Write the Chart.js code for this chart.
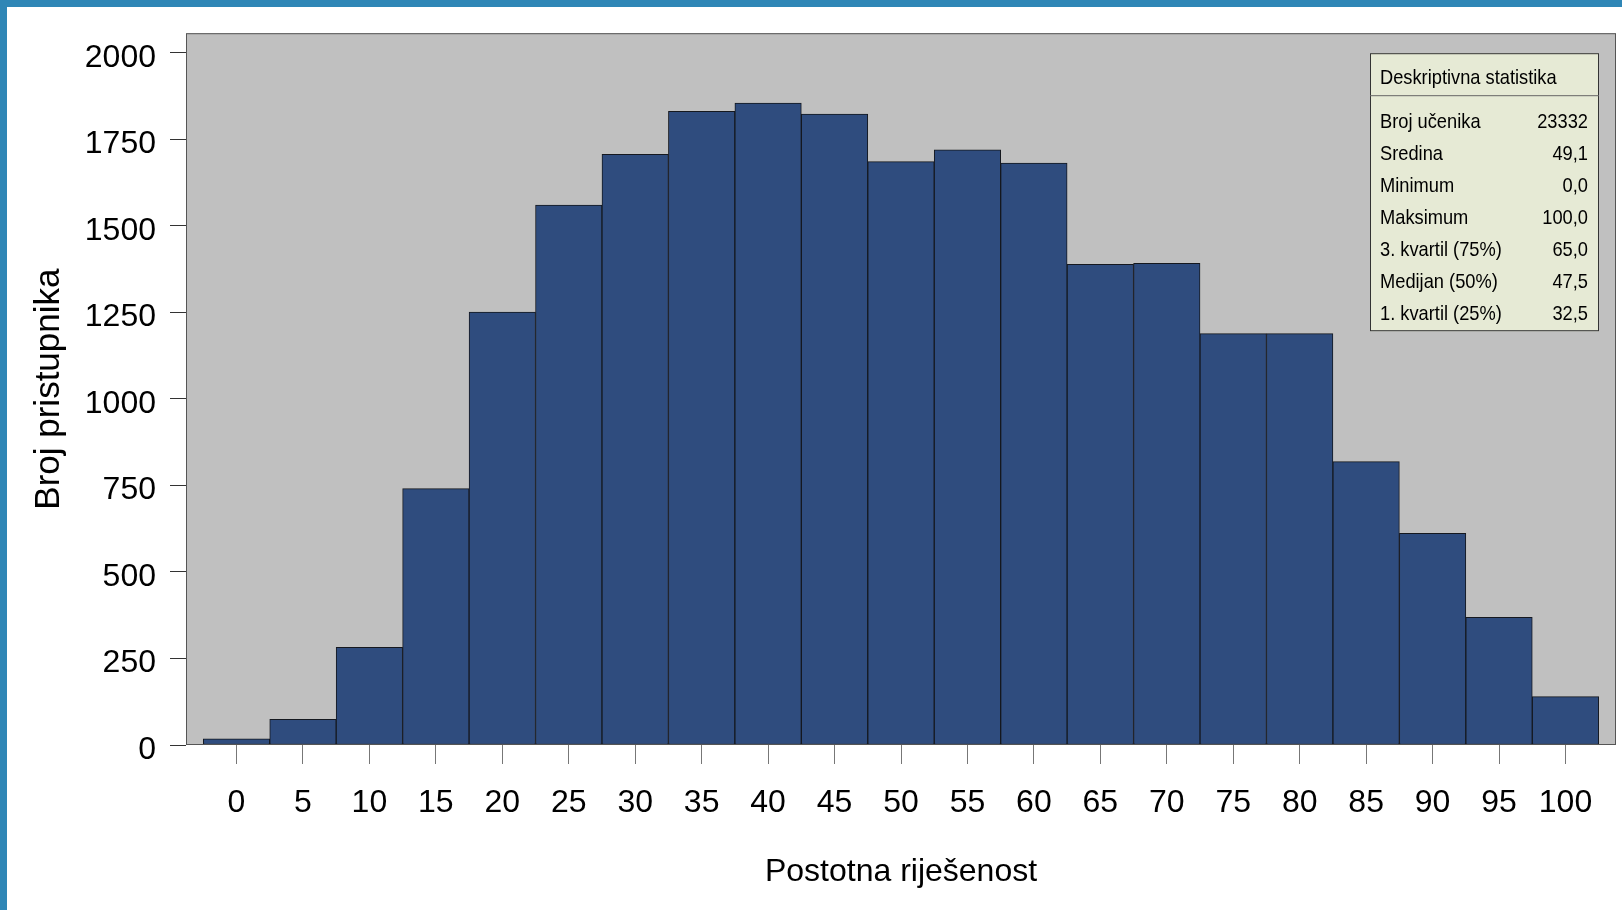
<!DOCTYPE html>
<html>
<head>
<meta charset="utf-8">
<script src="https://cdn.jsdelivr.net/npm/chart.js@4.4.1/dist/chart.umd.min.js"></script>
<style>
  html, body { margin: 0; padding: 0; background: #fff; }
  canvas { display: block; }
</style>
</head>
<body>
<canvas id="histogram" width="1622" height="910"></canvas>
<script>
// razredi postotne riješenosti i broj pristupnika u svakom razredu
const razredi = [0, 5, 10, 15, 20, 25, 30, 35, 40, 45, 50, 55, 60, 65, 70, 75, 80, 85, 90, 95, 100];
const brojPristupnika = [18, 74, 282, 741, 1251, 1560, 1707, 1831, 1855, 1823, 1686, 1720, 1682, 1389, 1392, 1189, 1189, 819, 612, 369, 140];
const xOznake = [0, 5, 10, 15, 20, 25, 30, 35, 40, 45, 50, 55, 60, 65, 70, 75, 80, 85, 90, 95, 100];
const yOznake = [0, 250, 500, 750, 1000, 1250, 1500, 1750, 2000];

const statNaslov = 'Deskriptivna statistika';
const statNazivi = ['Broj učenika', 'Sredina', 'Minimum', 'Maksimum', '3. kvartil (75%)', 'Medijan (50%)', '1. kvartil (25%)'];
const statVrijednosti = ['23332', '49,1', '0,0', '100,0', '65,0', '47,5', '32,5'];

const obicni = '"Liberation Sans", Arial, sans-serif';

// uži ispis teksta (kao u originalu) preko maxWidth
function uskiTekst(ctx, tekst, x, y) {
    ctx.fillText(tekst, x, y, ctx.measureText(tekst).width * 0.87);
}

const pozadina = {
    id: 'pozadina',
    beforeDraw(chart) {
        const { ctx, chartArea: a, width, height } = chart;
        ctx.save();
        ctx.fillStyle = '#ffffff';
        ctx.fillRect(0, 0, width, height);
        ctx.fillStyle = '#2f86b6';
        ctx.fillRect(0, 0, width, 7);
        ctx.fillRect(0, 0, 7, height);
        ctx.fillStyle = '#c0c0c0';
        ctx.fillRect(a.left, a.top, a.right - a.left, a.bottom - a.top);
        ctx.restore();
    },
    afterDraw(chart) {
        const { ctx, chartArea: a } = chart;
        ctx.save();
        // okvir grafa
        ctx.strokeStyle = '#555555';
        ctx.lineWidth = 1;
        ctx.strokeRect(a.left + 0.5, a.top + 0.5, a.right - a.left - 1, a.bottom - a.top - 1);

        // tablica deskriptivne statistike
        const x0 = a.right - 246, y0 = a.top + 20, w = 229, h = 278;
        ctx.fillStyle = '#e6ead5';
        ctx.fillRect(x0, y0, w, h);
        ctx.strokeStyle = '#333333';
        ctx.strokeRect(x0 + 0.5, y0 + 0.5, w - 1, h - 1);
        ctx.strokeStyle = '#666666';
        ctx.beginPath();
        ctx.moveTo(x0, y0 + 42.5);
        ctx.lineTo(x0 + w, y0 + 42.5);
        ctx.stroke();

        ctx.fillStyle = '#000000';
        ctx.font = '21px ' + obicni;
        ctx.textBaseline = 'alphabetic';
        ctx.textAlign = 'left';
        uskiTekst(ctx, statNaslov, x0 + 10, y0 + 31);
        statNazivi.forEach((naziv, i) => {
            const y = y0 + 74.5 + i * 32;
            ctx.textAlign = 'left';
            uskiTekst(ctx, naziv, x0 + 10, y);
            ctx.textAlign = 'right';
            uskiTekst(ctx, statVrijednosti[i], x0 + w - 11, y);
        });
        ctx.restore();
    }
};

const ctx = document.getElementById('histogram').getContext('2d');
const grafikon = new Chart(ctx, {
    type: 'bar',
    data: {
        datasets: [{
            data: razredi.map((r, i) => ({ x: r, y: brojPristupnika[i] })),
            backgroundColor: '#2f4c7e',
            borderColor: '#15181f',
            borderWidth: 1,
            borderSkipped: false,
            barPercentage: 1,
            categoryPercentage: 1
        }]
    },
    options: {
        responsive: false,
        devicePixelRatio: 1,
        animation: false,
        layout: { padding: { left: 0, top: 33, right: 6, bottom: 0 } },
        plugins: {
            legend: { display: false },
            tooltip: { enabled: false },
            title: { display: false }
        },
        scales: {
            x: {
                type: 'linear',
                offset: false,
                min: -3.8,
                max: 103.8,
                afterBuildTicks: s => { s.ticks = xOznake.map(v => ({ value: v })); },
                afterFit: s => { s.height = 165; },
                grid: { offset: false, drawOnChartArea: false, drawTicks: true, tickLength: 19, tickColor: '#777777', tickWidth: 1 },
                border: { display: false },
                ticks: {
                    color: '#000000',
                    padding: 20,
                    maxRotation: 0,
                    autoSkip: false,
                    font: { family: obicni, size: 32 },
                    callback: v => String(v)
                },
                title: {
                    display: true,
                    text: 'Postotna riješenost',
                    color: '#000000',
                    font: { family: obicni, size: 32 },
                    padding: { top: 0, bottom: 19 }
                }
            },
            y: {
                min: 0,
                max: 2057,
                afterBuildTicks: s => { s.ticks = yOznake.map(v => ({ value: v })); },
                afterFit: s => { s.width = 186; },
                grid: { drawOnChartArea: false, drawTicks: true, tickLength: 16, tickColor: '#333333', tickWidth: 1 },
                border: { display: false },
                ticks: {
                    color: '#000000',
                    padding: 14,
                    labelOffset: 5,
                    autoSkip: false,
                    font: { family: obicni, size: 32 },
                    callback: v => String(v)
                },
                title: {
                    display: true,
                    text: 'Broj pristupnika',
                    color: '#000000',
                    font: { family: obicni, size: 35 },
                    padding: { top: 28, bottom: 0 }
                }
            }
        }
    },
    plugins: [pozadina]
});
</script>
</body>
</html>
